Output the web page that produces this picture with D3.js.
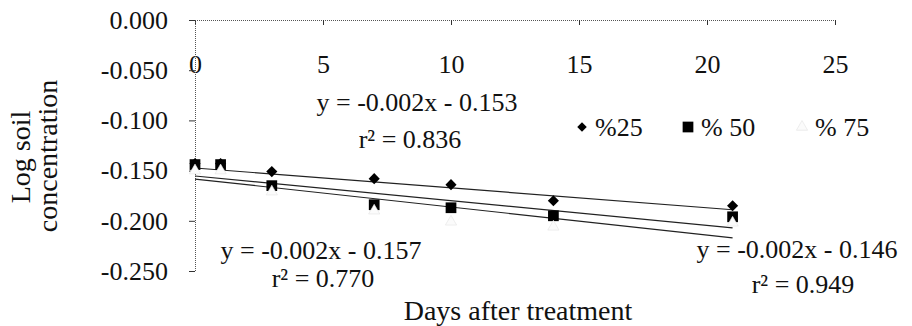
<!DOCTYPE html>
<html>
<head>
<meta charset="utf-8">
<script src="https://cdn.jsdelivr.net/npm/d3@7"></script>
<style>
  body { margin: 0; background: #fff; }
  svg text { font-family: "Times New Roman", "Liberation Serif", "DejaVu Serif", serif; fill: #111; }
</style>
</head>
<body>
<div id="chart"></div>
<script>
// days sampled and log soil concentration per treatment
const days = [0, 1, 3, 7, 10, 14, 21];
const seriesNames = ["%25", "% 50", "% 75"];
const p25 = [-0.143, -0.143, -0.151, -0.158, -0.164, -0.180, -0.185];
const p50 = [-0.144, -0.144, -0.165, -0.184, -0.187, -0.195, -0.196];
const p75 = [-0.150, -0.150, -0.171, -0.190, -0.201, -0.206, -0.202];

// linear trend lines as they are drawn in the picture
const trendIntercepts = [-0.1474, -0.1554, -0.1584];
const trendSlopes = [-0.00198, -0.00246, -0.00279];

const eqLabels = ["y = -0.002x - 0.153", "y = -0.002x - 0.157", "y = -0.002x - 0.146"];
const r2Labels = ["r² = 0.836", "r² = 0.770", "r² = 0.949"];

const xTicks = [0, 5, 10, 15, 20, 25];
const yTicks = [0, -0.05, -0.1, -0.15, -0.2, -0.25];

var width = 912, height = 326;
var plot = {left: 195, right: 835, top: 20, bottom: 271};
var serif = "'Times New Roman', 'Liberation Serif', 'DejaVu Serif', serif";

var svg = d3.select("#chart").append("svg")
    .attr("width", width)
    .attr("height", height)
    .attr("font-family", serif);

const x = d3.scaleLinear().domain([0, 25]).range([plot.left, plot.right]);
const y = d3.scaleLinear().domain([0, -0.25]).range([plot.top, plot.bottom]);

// x axis sits on y = 0 (top), labels below it
var gx = svg.append("g")
    .attr("transform", "translate(0," + y(0) + ")")
    .call(d3.axisBottom(x).tickValues(xTicks).tickSize(5).tickPadding(30).tickFormat(d => d));
gx.attr("font-family", serif);
gx.select(".domain").attr("stroke", "#555").attr("stroke-dasharray", "1,1");
gx.selectAll(".tick line").attr("stroke", "#333");
gx.selectAll(".tick text").attr("font-size", 26).attr("fill", "#111");

var gy = svg.append("g")
    .attr("transform", "translate(" + x(0) + ",0)")
    .call(d3.axisLeft(y).tickValues(yTicks).tickSize(6).tickPadding(21).tickFormat(d => d.toFixed(3)));
gy.attr("font-family", serif);
gy.select(".domain").attr("stroke", "#555").attr("stroke-dasharray", "1,1");
gy.selectAll(".tick line").attr("stroke", "#333");
gy.selectAll(".tick text").attr("font-size", 26).attr("fill", "#111");

// trend lines
trendIntercepts.forEach((b, i) => {
    const ends = [days[0], days[days.length - 1]];
    svg.append("path")
        .datum(ends)
        .attr("d", d3.line().x(d => x(d)).y(d => y(b + trendSlopes[i] * d)))
        .attr("fill", "none")
        .attr("stroke", "#222")
        .attr("stroke-width", 1.2);
});

// markers
const diamond = d3.symbol().type(d3.symbolSquare).size(62);
const square = d3.symbol().type(d3.symbolSquare).size(115);
const triangle = d3.symbol().type(d3.symbolTriangle).size(55);

const series = [
    {vals: p25, sym: diamond, rot: 45, fill: "#000", stroke: "none"},
    {vals: p50, sym: square, rot: 0, fill: "#000", stroke: "none"},
    {vals: p75, sym: triangle, rot: 0, fill: "#fbfbfb", stroke: "#e2e2e2"}
];

series.forEach(s => {
    svg.append("g").selectAll("path")
        .data(days.map((d, i) => ({day: d, v: s.vals[i]})))
        .enter().append("path")
        .attr("d", s.sym())
        .attr("transform", d => "translate(" + x(d.day) + "," + y(d.v) + ") rotate(" + s.rot + ")")
        .attr("fill", s.fill)
        .attr("stroke", s.stroke)
        .attr("stroke-width", 0.6);
});

// legend
const legendX = [582, 688, 802];
series.forEach((s, i) => {
    svg.append("path")
        .attr("d", i == 0 ? d3.symbol().type(d3.symbolSquare).size(45)() : s.sym())
        .attr("transform", "translate(" + legendX[i] + ",127) rotate(" + s.rot + ")")
        .attr("fill", s.fill)
        .attr("stroke", s.stroke)
        .attr("stroke-width", 0.6);
    svg.append("text")
        .attr("x", legendX[i] + 13)
        .attr("y", 136)
        .attr("font-size", 26)
        .text(seriesNames[i]);
});

// equations
const eqPos = [[417, 111, 410, 148], [321, 259, 323, 287], [797, 258, 803, 293]];
eqPos.forEach((p, i) => {
    svg.append("text").attr("x", p[0]).attr("y", p[1]).attr("text-anchor", "middle")
        .attr("font-size", 26).text(eqLabels[i]);
    svg.append("text").attr("x", p[2]).attr("y", p[3]).attr("text-anchor", "middle")
        .attr("font-size", 26).text(r2Labels[i]);
});

// axis titles
svg.append("text")
    .attr("x", 518).attr("y", 320)
    .attr("text-anchor", "middle")
    .attr("font-size", 28)
    .text("Days after treatment");

svg.append("text")
    .attr("transform", "translate(30,157) rotate(-90)")
    .attr("text-anchor", "middle")
    .attr("font-size", 28)
    .text("Log soil");
svg.append("text")
    .attr("transform", "translate(57,156) rotate(-90)")
    .attr("text-anchor", "middle")
    .attr("font-size", 28)
    .text("concentration");
</script>
</body>
</html>
